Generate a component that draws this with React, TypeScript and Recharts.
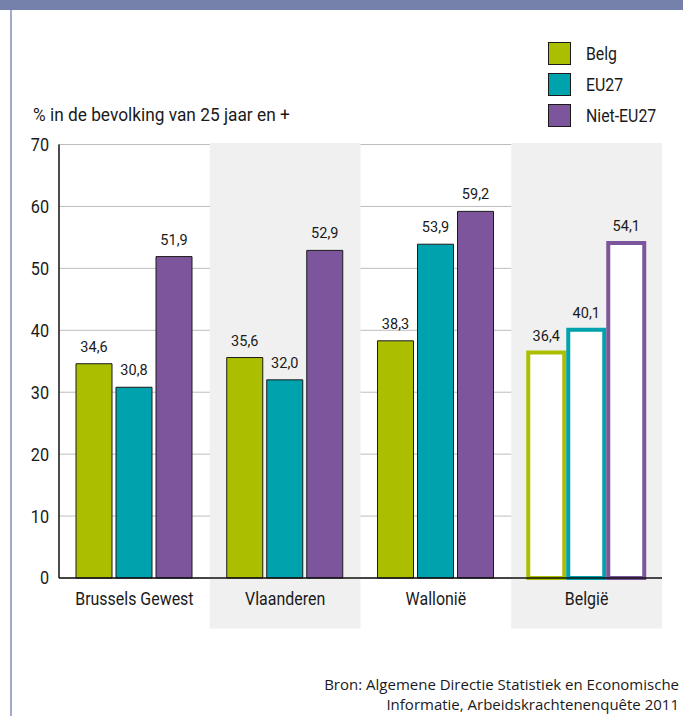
import {
  BarChart,
  Bar,
  XAxis,
  YAxis,
  CartesianGrid,
  Cell,
  LabelList,
  ReferenceArea,
} from 'recharts';

const regions = ['Brussels Gewest', 'Vlaanderen', 'Wallonië', 'België'];
const belg = [34.6, 35.6, 38.3, 36.4];
const eu27 = [30.8, 32.0, 53.9, 40.1];
const nietEu27 = [51.9, 52.9, 59.2, 54.1];
const yTicks = [0, 10, 20, 30, 40, 50, 60, 70];
const shadedRegions = ['Vlaanderen', 'België'];
const hollowRegion = 'België';

const SERIES = [
  { key: 'belg', name: 'Belg', color: '#abbf00' },
  { key: 'eu27', name: 'EU27', color: '#00a3ad' },
  { key: 'niet', name: 'Niet-EU27', color: '#7d559d' },
];

const FONT = "Roboto, 'Noto Sans', sans-serif";
const INK = '#1a1a1a';

const data = regions.map((region, i) => ({
  region,
  belg: belg[i],
  eu27: eu27[i],
  niet: nietEu27[i],
}));

const formatValue = (v: number) => v.toFixed(1).replace('.', ',');

// grey band behind a category, runs down over the axis labels
function Band(props: any) {
  const { x, y, width, height } = props;
  return (
    <rect
      x={x}
      y={y - 1.5}
      width={width}
      height={height + 52}
      fill="#f0f0f0"
    />
  );
}

// narrow category labels, the original uses a condensed face
function CategoryTick(props: any) {
  const { x, y, payload } = props;
  return (
    <g transform={`translate(${x},${y})`}>
      <text
        transform="scale(0.84,1)"
        textAnchor="middle"
        dy="0.71em"
        fontFamily={FONT}
        fontSize={19}
        fill={INK}
      >
        {payload.value}
      </text>
    </g>
  );
}

function ValueTick(props: any) {
  const { x, y, payload } = props;
  return (
    <g transform={`translate(${x},${y})`}>
      <text
        transform="scale(0.9,1)"
        textAnchor="end"
        dy="0.36em"
        fontFamily={FONT}
        fontSize={18}
        fill={INK}
      >
        {payload.value}
      </text>
    </g>
  );
}

function LegendBox() {
  return (
    <div
      style={{
        position: 'absolute',
        left: 548,
        top: 38,
        fontFamily: FONT,
        fontSize: 18,
        color: INK,
      }}
    >
      {SERIES.map((s) => (
        <div
          key={s.key}
          style={{ display: 'flex', alignItems: 'center', height: 31 }}
        >
          <span
            style={{
              width: 21,
              height: 21,
              background: s.color,
              border: '1px solid #1a1a1a',
              marginRight: 15,
              flex: 'none',
            }}
          />
          <span
            style={{
              display: 'inline-block',
              transform: 'scaleX(0.88)',
              transformOrigin: 'left center',
              whiteSpace: 'nowrap',
            }}
          >
            {s.name}
          </span>
        </div>
      ))}
    </div>
  );
}

export default function App() {
  return (
    <div
      style={{
        position: 'absolute',
        left: 0,
        top: 0,
        width: 683,
        height: 716,
        background: '#ffffff',
        overflow: 'hidden',
      }}
    >
      <div
        style={{
          position: 'absolute',
          left: 0,
          top: 0,
          width: 683,
          height: 10,
          background: '#7580ab',
        }}
      />
      <div
        style={{
          position: 'absolute',
          left: 10,
          top: 10,
          width: 2,
          height: 706,
          background: '#a3abcc',
        }}
      />

      <div
        style={{
          position: 'absolute',
          left: 33,
          top: 104,
          fontFamily: FONT,
          fontSize: 18,
          color: INK,
          whiteSpace: 'nowrap',
          transform: 'scaleX(0.96)',
          transformOrigin: 'left center',
        }}
      >
        % in de bevolking van 25 jaar en +
      </div>

      <LegendBox />

      <div style={{ position: 'absolute', left: 0, top: 0 }}>
        <BarChart
          width={683}
          height={716}
          data={data}
          margin={{ top: 144.5, right: 21, bottom: 108, left: 0 }}
          barCategoryGap={17}
          barGap={4}
        >
          {shadedRegions.map((r) => (
            <ReferenceArea
              key={r}
              x1={r}
              x2={r}
              y1={0}
              y2={70}
              shape={<Band />}
            />
          ))}
          <CartesianGrid vertical={false} stroke="#bdbdbd" strokeWidth={1} />
          <XAxis
            dataKey="region"
            interval={0}
            tickLine={false}
            axisLine={{ stroke: '#111', strokeWidth: 1.5 }}
            tickMargin={7}
            height={30}
            tick={<CategoryTick />}
          />
          <YAxis
            width={59}
            domain={[0, 70]}
            ticks={yTicks}
            tickLine={false}
            axisLine={{ stroke: '#111', strokeWidth: 1.5 }}
            tickMargin={4}
            tick={<ValueTick />}
          />
          {SERIES.map((s) => (
            <Bar
              key={s.key}
              dataKey={s.key}
              name={s.name}
              isAnimationActive={false}
            >
              {data.map((d) =>
                d.region === hollowRegion ? (
                  <Cell
                    key={d.region}
                    fill="#ffffff"
                    stroke={s.color}
                    strokeWidth={4}
                  />
                ) : (
                  <Cell
                    key={d.region}
                    fill={s.color}
                    stroke="#1a1a1a"
                    strokeWidth={1}
                  />
                ),
              )}
              <LabelList
                dataKey={s.key}
                position="top"
                offset={12}
                formatter={(v: any) => formatValue(Number(v))}
                style={{ fontFamily: FONT, fontSize: 14.5, fill: INK }}
              />
            </Bar>
          ))}
        </BarChart>
      </div>

      <div
        style={{
          position: 'absolute',
          right: 4,
          top: 674,
          textAlign: 'right',
          fontFamily: "'Open Sans', sans-serif",
          fontSize: 15,
          lineHeight: '20px',
          color: INK,
          whiteSpace: 'nowrap',
        }}
      >
        <div>Bron: Algemene Directie Statistiek en Economische</div>
        <div>Informatie, Arbeidskrachtenenquête 2011</div>
      </div>
    </div>
  );
}
